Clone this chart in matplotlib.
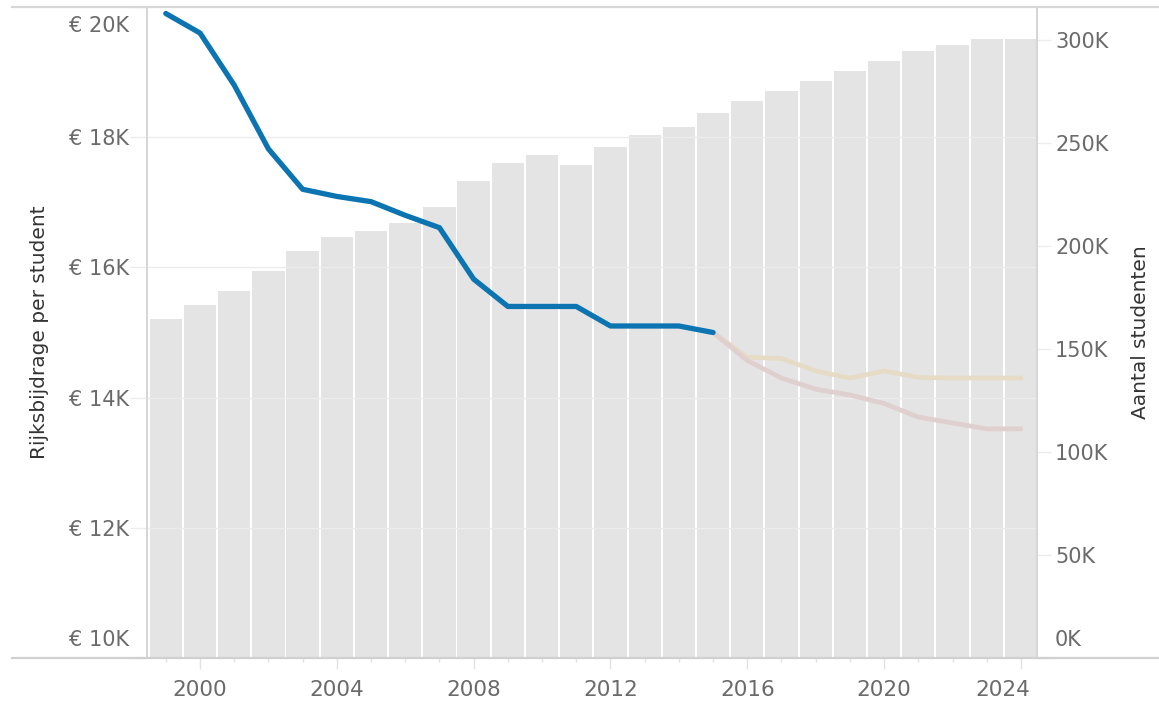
import matplotlib
matplotlib.use("Agg")
import matplotlib.pyplot as plt
import matplotlib.transforms as mtransforms
from matplotlib.lines import Line2D

# jaren en aantallen (K)
years = list(range(1999, 2025))
students_k = [164.6, 171.4, 178.2, 187.9, 197.6, 204.4, 207.3, 211.2, 218.9,
              231.6, 240.3, 244.2, 239.3, 248.1, 253.9, 257.8, 264.6, 270.4,
              275.2, 280.1, 285.0, 289.8, 294.7, 297.6, 300.5, 300.5]

# rijksbijdrage per student (K euro), gerealiseerd
hist_years = list(range(1999, 2016))
bijdrage_k = [19.9, 19.6, 18.8, 17.82, 17.2, 17.09, 17.01, 16.8, 16.61,
              15.82, 15.4, 15.4, 15.4, 15.1, 15.1, 15.1, 15.0]

# prognoses (vervaagd)
prog_years = list(range(2015, 2025))
prog_a = [15.0, 14.62, 14.6, 14.41, 14.3, 14.41, 14.31, 14.3, 14.3, 14.3]
prog_b = [15.0, 14.57, 14.3, 14.13, 14.04, 13.91, 13.7, 13.61, 13.52, 13.52]

left_ticks = [10, 12, 14, 16, 18, 20]
left_labels = ["€ %dK" % v for v in left_ticks]
right_ticks = [0, 50, 100, 150, 200, 250, 300]
right_labels = ["%dK" % v for v in right_ticks]
x_ticks = [2000, 2004, 2008, 2012, 2016, 2020, 2024]

W, H = 1159, 702
fig = plt.figure(figsize=(W / 100, H / 100), dpi=100)
L, R, T, B = 147, 1037, 7, 658
ax_bar = fig.add_axes([L / W, 1 - B / H, (R - L) / W, (B - T) / H])
ax_line = ax_bar.twinx()

ax_bar.bar(years, students_k, width=0.945, color="#e4e4e4", zorder=1)
ax_bar.set_ylim(0, 316)
ax_bar.set_xlim(1998.45, 2024.47)

ax_line.plot(prog_years, prog_a, color="#e6dcc6", lw=3.4, solid_capstyle="round", zorder=3)
ax_line.plot(prog_years, prog_b, color="#e0cfcf", lw=3.4, solid_capstyle="round", zorder=3)
ax_line.plot(hist_years, bijdrage_k, color="#0b74b1", lw=3.8, solid_capstyle="round",
             solid_joinstyle="round", zorder=4)
ax_line.set_ylim(10, 20)

# assen omwisselen: bars rechts, lijn links
ax_bar.yaxis.tick_right()
ax_bar.yaxis.set_label_position("right")
ax_line.yaxis.tick_left()
ax_line.yaxis.set_label_position("left")

tick_col = "#6a6a6a"
ax_line.set_yticks(left_ticks, left_labels)
ax_bar.set_yticks(right_ticks, right_labels)
ax_line.tick_params(axis="y", length=12, width=1, color="#ececec", pad=1,
                    labelsize=15, labelcolor=tick_col)
ax_bar.tick_params(axis="y", length=10, width=1, color="#ececec", pad=3,
                   labelsize=15, labelcolor=tick_col)

ax_bar.set_xticks(x_ticks, [str(x) for x in x_ticks])
ax_bar.set_xticks(years, minor=True)
ax_bar.tick_params(axis="x", which="major", length=8, width=1, color="#e2e2e2",
                   pad=8, labelsize=15.5, labelcolor=tick_col)
ax_bar.tick_params(axis="x", which="minor", length=3, width=1, color="#e2e2e2")

for y in left_ticks[1:-1]:
    ax_line.axhline(y, color="#ececec", lw=1, zorder=2)

for a in (ax_bar, ax_line):
    for s in ("top", "bottom"):
        a.spines[s].set_visible(False)
    for s in ("left", "right"):
        a.spines[s].set_color("#d6d6d6")
        a.spines[s].set_linewidth(1.3)

# randlijnen boven en onder over de hele breedte
fig.add_artist(Line2D([12 / W, 1], [1 - T / H, 1 - T / H], color="#d6d6d6", lw=1.6))
fig.add_artist(Line2D([12 / W, 1], [1 - B / H, 1 - B / H], color="#d0d0d0", lw=1.6))

ax_line.set_ylabel("Rijksbijdrage per student", fontsize=14.5, color="#333333")
ax_line.yaxis.set_label_coords(-0.11, 0.5)
ax_bar.set_ylabel("Aantal studenten", fontsize=14.5, color="#333333", rotation=90)
ax_bar.yaxis.set_label_coords(1.106, 0.5)

# eindlabels naar binnen schuiven zoals het origineel
def shift(label, dx, dy):
    label.set_transform(label.get_transform() +
                        mtransforms.ScaledTranslation(dx / 100, dy / 100, fig.dpi_scale_trans))

shift(ax_bar.xaxis.get_major_ticks()[-1].label1, -18, 0)
shift(ax_line.yaxis.get_major_ticks()[0].label1, 0, 20)
shift(ax_line.yaxis.get_major_ticks()[-1].label1, 0, -17)
shift(ax_bar.yaxis.get_major_ticks()[0].label2, 0, 20)

fig.savefig("out.png", dpi=100)
